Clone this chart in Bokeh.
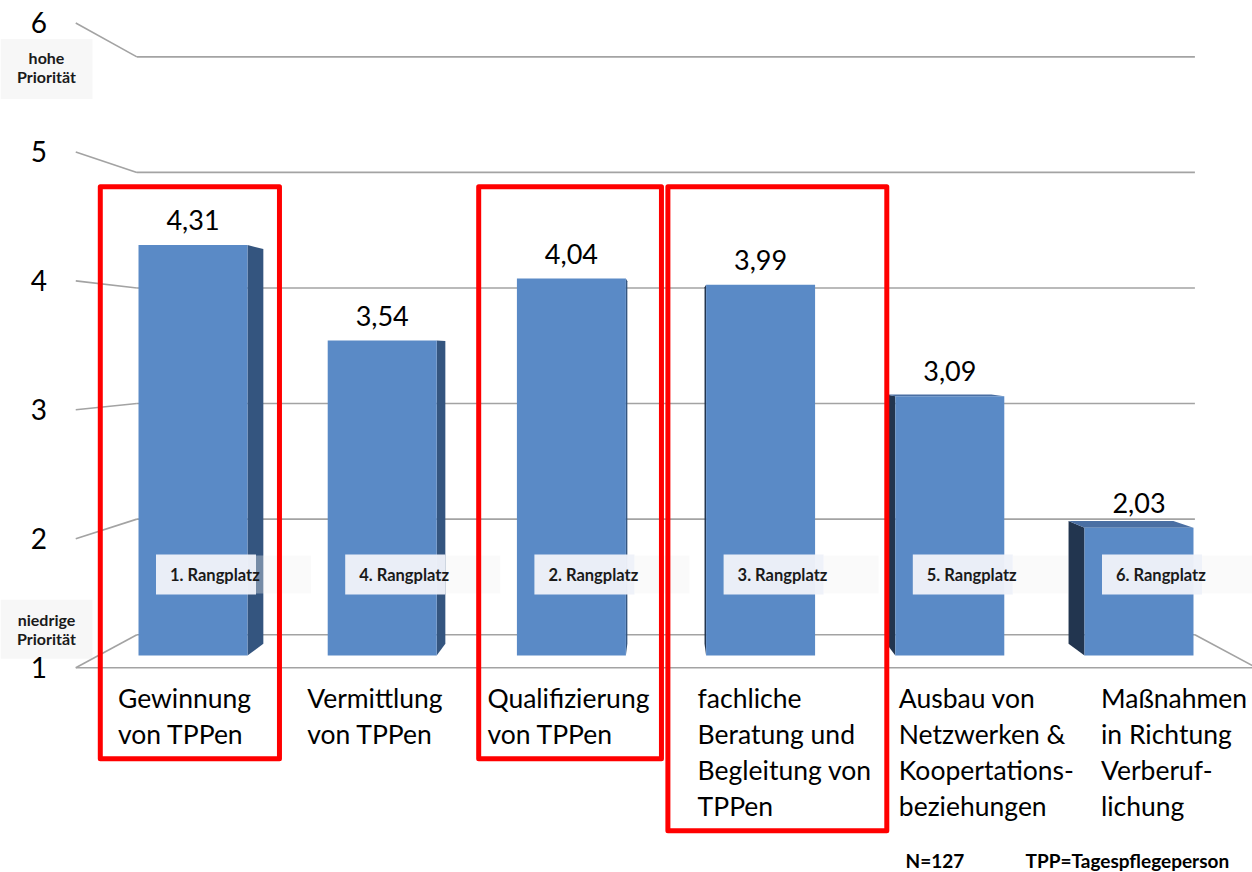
from bokeh.plotting import figure
from bokeh.models import Range1d
from bokeh.embed import file_html
from bokeh.resources import INLINE
from bokeh.core.properties import value

# ---------------- data ----------------
categories = [
    "Gewinnung\nvon TPPen",
    "Vermittlung\nvon TPPen",
    "Qualifizierung\nvon TPPen",
    "fachliche\nBeratung und\nBegleitung von\nTPPen",
    "Ausbau von\nNetzwerken &\nKoopertations-\nbeziehungen",
    "Maßnahmen\nin Richtung\nVerberuf-\nlichung",
]
values = [4.31, 3.54, 4.04, 3.99, 3.09, 2.03]
value_labels = ["4,31", "3,54", "4,04", "3,99", "3,09", "2,03"]
ranks = [1, 4, 2, 3, 5, 6]
highlighted = [True, False, True, True, False, False]
y_ticks = [1, 2, 3, 4, 5, 6]
y_tick_labels = ["1", "2", "3", "4", "5", "6"]
top_note = ["hohe", "Priorität"]
bottom_note = ["niedrige", "Priorität"]
footnotes = ["N=127", "TPP=Tagespflegeperson"]

# ---------------- layout helpers ----------------
W, H = 1252, 872
X0_REF, PXX, Y1_REF, PXY = 192.5, 189.2, 655.0, 124.0


def rx(px):
    return (px - X0_REF) / PXX


def ry(px):
    return 1 + (Y1_REF - px) / PXY


def dxp(px):
    return px / PXX


def dyp(px):
    return px / PXY


VP_X, VP_Y = rx(664), ry(349)
F_FRONT, F_BACK, F_BAR_BACK = 1.04, 0.932, 0.962
HALF_W = 0.288
X_LEFT, X_RIGHT = -0.5, len(values) - 0.5


def proj(x, y, f):
    return VP_X + f * (x - VP_X), VP_Y + f * (y - VP_Y)


FONT = value("Lato")
GRID = "#a3a3a3"
FRONT = "#5a8ac6"
SIDE_R = "#34557f"
SIDE_L = "#22354f"
TOP = "#4a6fa3"

p = figure(width=W, height=H,
           x_range=Range1d(rx(0), rx(W)), y_range=Range1d(ry(H), ry(0)),
           x_axis_type=None, y_axis_type=None, toolbar_location=None,
           output_backend="svg", min_border=0, outline_line_color=None,
           background_fill_color="white", border_fill_color="white")

# ---- note backgrounds on the left ----
t6x, t6y = proj(X_LEFT, y_ticks[-1], F_FRONT)
t1x, t1y = proj(X_LEFT, y_ticks[0], F_FRONT)
p.quad(left=[rx(0), rx(0)], right=[rx(92), rx(92)],
       top=[t6y - dyp(16), t1y + dyp(68)],
       bottom=[t6y - dyp(76), t1y + dyp(9)],
       fill_color="#f7f7f7", line_color=None)

# ---- grid (back wall, left diagonals, floor) ----
xs, ys = [], []
for t in y_ticks:
    a = proj(X_LEFT, t, F_BACK)
    b = proj(X_RIGHT, t, F_BACK)
    xs.append([a[0], b[0]]); ys.append([a[1], b[1]])
    c = proj(X_LEFT, t, F_FRONT)
    xs.append([c[0], a[0]]); ys.append([c[1], a[1]])
fl = proj(X_LEFT, y_ticks[0], F_FRONT)
fr = proj(X_RIGHT, y_ticks[0], F_FRONT)
br = proj(X_RIGHT, y_ticks[0], F_BACK)
xs.append([fl[0], fr[0], br[0]]); ys.append([fl[1], fr[1], br[1]])
p.multi_line(xs=xs, ys=ys, line_color=GRID, line_width=1.6)

# ---- bars: sides and tops ----
base = y_ticks[0]
side_xs, side_ys, side_cols = [], [], []
top_xs, top_ys = [], []
for i, v in enumerate(values):
    if i < VP_X:
        ex = i + HALF_W
        col = SIDE_R
    else:
        ex = i - HALF_W
        col = SIDE_L
    b1 = proj(ex, base, F_BAR_BACK)
    b2 = proj(ex, v, F_BAR_BACK)
    side_xs.append([ex, ex, b2[0], b1[0]])
    side_ys.append([base, v, b2[1], b1[1]])
    side_cols.append(col)
    if v < VP_Y:
        l2 = proj(i - HALF_W, v, F_BAR_BACK)
        r2 = proj(i + HALF_W, v, F_BAR_BACK)
        top_xs.append([i - HALF_W, i + HALF_W, r2[0], l2[0]])
        top_ys.append([v, v, r2[1], l2[1]])
p.patches(xs=side_xs, ys=side_ys, fill_color=side_cols, line_color=None)
if top_xs:
    p.patches(xs=top_xs, ys=top_ys, fill_color=TOP, line_color=None)

idx = list(range(len(values)))
p.vbar(x=idx, top=values, bottom=base, width=2 * HALF_W,
       fill_color=FRONT, line_color=None)

# ---- rank labels ----
RANK_Y = ry(574)
p.quad(left=[i + dxp(63) for i in idx], right=[i + dxp(118) for i in idx],
       bottom=[RANK_Y - dyp(19)] * len(idx), top=[RANK_Y + dyp(19)] * len(idx),
       fill_color="#f2f2f2", fill_alpha=0.35, line_color=None)
p.quad(left=[i - dxp(37) for i in idx], right=[i + dxp(63) for i in idx],
       bottom=[RANK_Y - dyp(20)] * len(idx), top=[RANK_Y + dyp(20)] * len(idx),
       fill_color="#eef2f9", fill_alpha=0.97, line_color=None)
p.text(x=[i - dxp(23) for i in idx], y=[RANK_Y] * len(idx),
       text=[f"{r}. Rangplatz" for r in ranks],
       text_font=FONT, text_font_style="bold", text_font_size=value("16.5px"),
       text_color="#1a1a1a", text_align="left", text_baseline="middle")

# ---- value labels ----
p.text(x=idx, y=[v + dyp(25) for v in values], text=value_labels,
       text_font=FONT, text_font_size=value("27px"), text_color="black",
       text_align="center", text_baseline="middle")

# ---- category labels ----
label_dx = [-75, -75, -84, -63, -51, -38]
LINE_H = 36
first_line_y = fl[1] - dyp(30)
cx, cy, ct = [], [], []
n_lines = []
for i, c in enumerate(categories):
    lines = c.split("\n")
    n_lines.append(len(lines))
    for k, ln in enumerate(lines):
        cx.append(i + dxp(label_dx[i]))
        cy.append(first_line_y - dyp(LINE_H * k))
        ct.append(ln)
p.text(x=cx, y=cy, text=ct, text_font=FONT, text_font_size=value("26.5px"),
       text_color="black", text_align="left", text_baseline="middle")

# ---- highlight boxes ----
box_right = {0: 0.457, 2: 0.476, 3: 0.667}
hl = [i for i, h in enumerate(highlighted) if h]
p.quad(left=[i - 0.49 for i in hl], right=[i + box_right.get(i, 0.47) for i in hl],
       top=[max(values) + 0.47] * len(hl),
       bottom=[first_line_y - dyp(LINE_H * (n_lines[i] - 1) + 25) for i in hl],
       fill_color=None, line_color="#ff0000", line_width=5, line_join="round")

# ---- y tick labels (front edge) ----
tx = [proj(X_LEFT, t, F_FRONT)[0] - dxp(37) for t in y_ticks]
ty = [proj(X_LEFT, t, F_FRONT)[1] for t in y_ticks]
p.text(x=tx, y=ty, text=y_tick_labels, text_font=FONT,
       text_font_size=value("28px"), text_color="black",
       text_align="center", text_baseline="middle")

nx = rx(46)
p.text(x=[nx, nx], y=[t6y - dyp(35), t6y - dyp(54)], text=top_note,
       text_font=FONT, text_font_style="bold", text_font_size=value("16px"),
       text_color="#1a1a1a", text_align="center", text_baseline="middle")
p.text(x=[nx, nx], y=[t1y + dyp(48), t1y + dyp(29)], text=bottom_note,
       text_font=FONT, text_font_style="bold", text_font_size=value("16px"),
       text_color="#1a1a1a", text_align="center", text_baseline="middle")

# ---- footnotes ----
p.text(x=[rx(905), rx(1025)], y=[ry(860), ry(860)], text=footnotes,
       text_font=FONT, text_font_style="bold", text_font_size=value("19px"),
       text_color="black", text_align="left", text_baseline="middle")

open("out.html", "w").write(file_html(p, INLINE))
